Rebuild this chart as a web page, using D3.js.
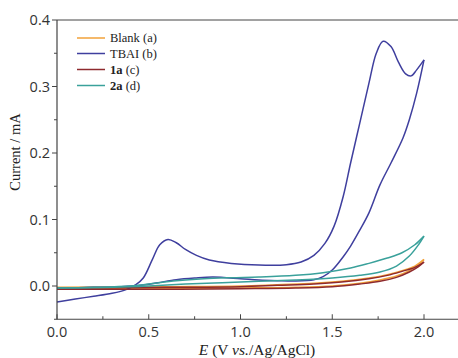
<!DOCTYPE html>
<html>
<head>
<meta charset="utf-8">
<script src="https://cdn.jsdelivr.net/npm/d3@7"></script>
<style>
html,body{margin:0;padding:0;background:#fff;}
svg{display:block;}
</style>
</head>
<body>
<svg id="chart" width="458" height="358"></svg>
<script>
// ---- data (E in V, current in mA) ----
const seriesNames = ["Blank (a)", "TBAI (b)", "1a (c)", "2a (d)"];
const seriesColors = ["#f2a23a", "#3f3f9e", "#8e2a2e", "#3aa19b"];
const xTicks = [0.0, 0.5, 1.0, 1.5, 2.0];
const yTicks = [0.0, 0.1, 0.2, 0.3, 0.4];

const blankFwd = [[0,-0.004],[0.5,-0.004],[1.0,-0.003],[1.3,-0.002],[1.5,0.0],[1.65,0.004],[1.76,0.009],[1.85,0.015],[1.92,0.023],[1.97,0.032],[2.0,0.04]];
const blankRev = [[2.0,0.04],[1.95,0.03],[1.88,0.023],[1.8,0.017],[1.7,0.012],[1.55,0.007],[1.4,0.004],[1.2,0.002],[1.0,0.0],[0.6,-0.001],[0,-0.002]];

const tbaiFwd = [[0,-0.024],[0.1,-0.0195],[0.2,-0.0155],[0.3,-0.011],[0.38,-0.005],[0.43,0.002],[0.47,0.012],[0.52,0.04],[0.56,0.062],[0.605,0.070],[0.65,0.065],[0.7,0.055],[0.76,0.046],[0.83,0.039],[0.95,0.034],[1.1,0.0315],[1.25,0.032],[1.33,0.036],[1.4,0.046],[1.46,0.064],[1.51,0.09],[1.56,0.135],[1.6,0.185],[1.65,0.245],[1.7,0.305],[1.74,0.35],[1.777,0.368],[1.82,0.36],[1.86,0.337],[1.9,0.319],[1.93,0.316],[1.96,0.325],[2.0,0.34]];
const tbaiRev = [[2.0,0.34],[1.96,0.29],[1.92,0.25],[1.886,0.223],[1.82,0.185],[1.76,0.152],[1.7,0.11],[1.65,0.084],[1.6,0.06],[1.56,0.044],[1.5,0.024],[1.45,0.014],[1.4,0.0095],[1.3,0.0075],[1.2,0.008],[1.1,0.009],[1.0,0.011],[0.85,0.0135],[0.75,0.012],[0.65,0.0095],[0.55,0.005],[0.47,0.0015],[0.35,-0.001],[0.2,-0.002],[0,-0.003]];

const c1aFwd = [[0,-0.005],[0.5,-0.005],[1.0,-0.004],[1.3,-0.003],[1.5,-0.001],[1.65,0.003],[1.76,0.007],[1.85,0.013],[1.92,0.021],[1.97,0.029],[2.0,0.036]];
const c1aRev = [[2.0,0.036],[1.95,0.028],[1.88,0.022],[1.8,0.016],[1.7,0.011],[1.55,0.006],[1.4,0.003],[1.2,0.001],[1.0,-0.001],[0.6,-0.002],[0,-0.003]];

const c2aFwd = [[0,-0.003],[0.3,-0.002],[0.5,0.0],[0.7,0.003],[0.9,0.005],[1.1,0.007],[1.3,0.009],[1.5,0.012],[1.65,0.016],[1.76,0.021],[1.85,0.03],[1.92,0.045],[1.97,0.062],[2.0,0.075]];
const c2aRev = [[2.0,0.075],[1.95,0.062],[1.88,0.05],[1.8,0.042],[1.7,0.034],[1.6,0.027],[1.45,0.02],[1.3,0.016],[1.1,0.0135],[0.95,0.0125],[0.8,0.011],[0.65,0.008],[0.5,0.003],[0.4,0.0],[0.2,-0.002],[0,-0.003]];

const seriesData = [[blankFwd, blankRev],[tbaiFwd, tbaiRev],[c1aFwd, c1aRev],[c2aFwd, c2aRev]];

// ---- layout ----
const svg = d3.select("#chart");
const x = d3.scaleLinear().domain([0, 2.2]).range([57, 57 + 183.5 * 2.2]);
const y = d3.scaleLinear().domain([-0.05, 0.4]).range([319.25, 20]);
const axisColor = "#444";

// data lines
const line = d3.line().x(d => x(d[0])).y(d => y(d[1])).curve(d3.curveCatmullRom.alpha(0.5));
const gData = svg.append("g");
seriesData.forEach((branches, i) => {
  branches.forEach(b => {
    gData.append("path").attr("d", line(b)).attr("fill", "none")
      .attr("stroke", seriesColors[i]).attr("stroke-width", 1.5)
      .attr("stroke-linejoin", "round");
  });
});

// frame top line
svg.append("line").attr("x1", x(0)).attr("x2", 458).attr("y1", y(0.4)).attr("y2", y(0.4))
  .attr("stroke", axisColor).attr("stroke-width", 1);

// x axis (ticks inward)
const xAxis = svg.append("g").attr("transform", `translate(0,${y(-0.05)})`);
xAxis.append("line").attr("x1", x(0)).attr("x2", 458).attr("stroke", axisColor).attr("stroke-width", 1.2);
d3.range(0, 2.01, 0.25).forEach(v => {
  const major = Math.abs(v * 2 - Math.round(v * 2)) < 1e-6;
  xAxis.append("line").attr("x1", x(v)).attr("x2", x(v)).attr("y1", 0).attr("y2", major ? -5 : -3)
    .attr("stroke", axisColor).attr("stroke-width", 1);
});
xAxis.selectAll("text.tick").data(xTicks).enter().append("text")
  .attr("x", d => x(d)).attr("y", 18).attr("text-anchor", "middle")
  .attr("font-family", "'Open Sans', sans-serif").attr("font-size", 14.5).attr("fill", "#333")
  .text(d => d.toFixed(1));

// y axis (ticks outward)
const yAxis = svg.append("g").attr("transform", `translate(${x(0)},0)`);
yAxis.append("line").attr("y1", y(-0.05)).attr("y2", y(0.4)).attr("stroke", axisColor).attr("stroke-width", 1.2);
d3.range(-0.05, 0.401, 0.05).forEach(v => {
  const major = Math.abs(v * 10 - Math.round(v * 10)) < 1e-6;
  yAxis.append("line").attr("x1", 0).attr("x2", major ? -5 : -3).attr("y1", y(v)).attr("y2", y(v))
    .attr("stroke", axisColor).attr("stroke-width", 1);
});
yAxis.selectAll("text.tick").data(yTicks).enter().append("text")
  .attr("x", -7).attr("y", d => y(d)).attr("dy", "0.36em").attr("text-anchor", "end")
  .attr("font-family", "'Open Sans', sans-serif").attr("font-size", 14.5).attr("fill", "#333")
  .text(d => d.toFixed(1));

// axis titles
const xt = svg.append("text").attr("x", 257).attr("y", 355).attr("text-anchor", "middle")
  .attr("font-family", "'Liberation Serif', 'Times New Roman', serif").attr("font-size", 15.5).attr("fill", "#222");
xt.append("tspan").attr("font-style", "italic").text("E");
xt.append("tspan").text(" (V ");
xt.append("tspan").attr("font-style", "italic").text("vs.");
xt.append("tspan").text("/Ag/AgCl)");

svg.append("text").attr("transform", `translate(20,152) rotate(-90)`).attr("text-anchor", "middle")
  .attr("font-family", "'Liberation Serif', 'Times New Roman', serif").attr("font-size", 14.5).attr("fill", "#222")
  .text("Current / mA");

// legend
const legY = [38, 53.5, 69.5, 85.5];
const leg = svg.append("g");
seriesNames.forEach((name, i) => {
  leg.append("line").attr("x1", 77).attr("x2", 105).attr("y1", legY[i]).attr("y2", legY[i])
    .attr("stroke", seriesColors[i]).attr("stroke-width", 1.5);
  const t = leg.append("text").attr("x", 110).attr("y", legY[i]).attr("dy", "0.35em")
    .attr("font-family", "'Liberation Serif', 'Times New Roman', serif").attr("font-size", 12.5).attr("fill", "#222");
  const m = name.match(/^(\S+)(.*)$/);
  if (i >= 2) {
    t.append("tspan").attr("font-weight", "bold").text(m[1]);
    t.append("tspan").text(m[2]);
  } else {
    t.text(name);
  }
});
</script>
</body>
</html>
